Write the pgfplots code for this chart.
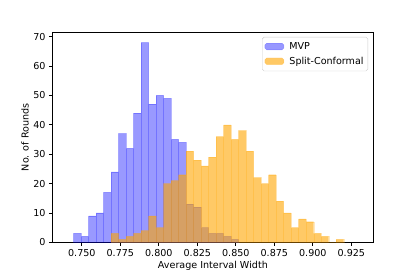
\documentclass[border=0pt]{standalone}
\usepackage{fontspec}
\setmainfont{DejaVu Sans}
\usepackage{pgfplots}
\pgfplotsset{compat=1.18}
\definecolor{mvpblue}{RGB}{0,0,255}
\definecolor{scorange}{RGB}{255,165,0}
\begin{document}
\fontsize{10}{12}\selectfont
\begin{tikzpicture}
\path[use as bounding box] (-54.4bp,-36.1bp) rectangle (377.6bp,252.2bp);
\begin{axis}[
  at={(0,0)}, anchor=south west,
  scale only axis, width=334.4bp, height=218.6bp,
  xmin=0.7308, xmax=0.9394, ymin=0, ymax=71.5,
  xtick={0.750,0.775,0.800,0.825,0.850,0.875,0.900,0.925},
  ytick={0,10,20,30,40,50,60,70},
  scaled x ticks=false,
  tick pos=left,
  tick align=outside,
  major tick length=3.5pt,
  tick style={black, line width=0.8pt},
  axis line style={black, line width=0.8pt},
  xticklabel style={/pgf/number format/.cd, fixed, fixed zerofill, precision=3, assume math mode=true},
  yticklabel style={/pgf/number format/assume math mode=true},
  tick label style={font=\fontsize{10}{12}\selectfont},
  label style={font=\fontsize{10}{12}\selectfont},
  xlabel={Average Interval Width},
  ylabel={No. of Rounds},
  every axis x label/.style={at={(axis description cs:0.5,-0.1116)}, anchor=center},
  every axis y label/.style={at={(axis description cs:-0.085,0.5)}, rotate=90, anchor=center},
  legend style={at={(0.983,0.978)}, anchor=north east, draw=black!20, rounded corners=2pt,
    fill=white, fill opacity=0.8, text opacity=1, font=\fontsize{10}{12}\selectfont,
    inner xsep=2.5pt, inner ysep=3.5pt, row sep=2.5pt,
    /tikz/every odd column/.append style={column sep=3.5pt}},
  legend cell align=left,
]
\addplot[ybar interval, fill=mvpblue, fill opacity=0.4, draw=mvpblue, draw opacity=0.25, line width=0.4pt,
  legend image code/.code={\fill[mvpblue, fill opacity=0.4] (0pt,-3.5pt) rectangle (20pt,3.5pt);}]
table {
0.74460 3
0.74947 2
0.75435 9
0.75922 10
0.76410 17
0.76897 24
0.77384 37
0.77872 32
0.78359 44
0.78847 68
0.79334 47
0.79821 50
0.80309 49
0.80796 35
0.81284 34
0.81771 13
0.82258 12
0.82746 5
0.83233 3
0.83721 3
0.84208 2
0.84695 1
0.85183 0
};
\addlegendentry{MVP}
\addplot[ybar interval, fill=scorange, fill opacity=0.6, draw=scorange, draw opacity=0.25, line width=0.4pt,
  legend image code/.code={\fill[scorange, fill opacity=0.6] (0pt,-3.5pt) rectangle (20pt,3.5pt);}]
table {
0.76897 3
0.77384 1
0.77872 2
0.78359 3
0.78847 4
0.79334 9
0.79821 5
0.80309 20
0.80796 21
0.81284 23
0.81771 31
0.82258 28
0.82746 26
0.83233 29
0.83721 36
0.84208 40
0.84695 35
0.85183 38
0.85670 31
0.86158 22
0.86645 20
0.87132 23
0.87620 14
0.88107 10
0.88595 5
0.89082 8
0.89569 7
0.90057 3
0.90544 2
0.91032 0
0.91519 1
0.92006 0
};
\addlegendentry{Split-Conformal}
\end{axis}
\end{tikzpicture}
\end{document}
